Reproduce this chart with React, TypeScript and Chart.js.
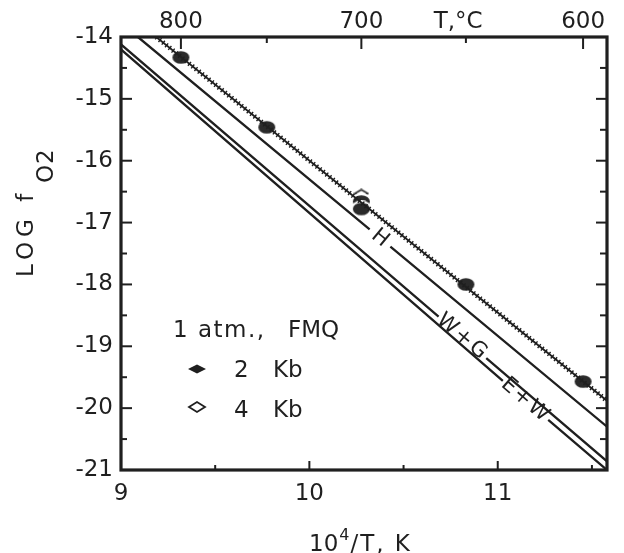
import React, { useEffect, useRef } from 'react';
import { Chart, registerables } from 'chart.js';

Chart.register(...registerables);

const FONT = '"DejaVu Sans", "Liberation Sans", sans-serif';
const INK = '#1f1f1f';

// ---- axes ----
const xMin = 9;
const xMax = 11.58;
const yMin = -21;
const yMax = -14;

const bottomTicks = [9, 10, 11];
const bottomMinorTicks = [9.5, 10.5, 11.5];
const leftTicks = [-14, -15, -16, -17, -18, -19, -20, -21];
const leftMinorTicks = [-14.5, -15.5, -16.5, -17.5, -18.5, -19.5, -20.5];

// top axis: temperature in deg C placed at 10^4/T(K)
const topTempLabels = ['800', '750', '700', '650', '600'];
const topTickX = [9.318, 9.774, 10.276, 10.831, 11.453];
const topMajor = [true, false, true, false, true];
const topUnitText = 'T,°C';
const topUnitX = 10.79;

// ---- series ----
// 1 atm FMQ buffer (hatched line)
const fmqX = [9.187, 11.58];
const fmqY = [-14.0, -19.88];

// H line (gap for label)
const hX = [9.09, 10.32, 10.375, 10.43, 11.58];
const hY: (number | null)[] = [-14.0, -17.11, null, -17.39, -20.3];

// W+G line
const wgX = [9.0, 10.686, 10.81, 10.939, 11.58];
const wgY: (number | null)[] = [-14.12, -18.52, null, -19.19, -20.86];

// E+W line
const ewX = [9.0, 11.027, 11.15, 11.268, 11.58];
const ewY: (number | null)[] = [-14.2, -19.56, null, -20.19, -21.0];

// line labels
const lineLabelText = ['H', 'W+G', 'E+W'];
const lineLabelX = [10.375, 10.812, 11.148];
const lineLabelY = [-17.25, -18.85, -19.877];

// experimental points
const kb2X = [9.318, 9.774, 10.276, 10.276, 10.831, 11.453];
const kb2Y = [-14.33, -15.46, -16.66, -16.78, -18.0, -19.57];
const kb4X = [10.276];
const kb4Y = [-16.53];

// legend
const legendTitleA = '1 atm.,';
const legendTitleB = 'FMQ';
const legendNums = ['2', '4'];
const legendUnit = 'Kb';

const toPts = (xs: number[], ys: (number | null)[]) => xs.map((x, i) => ({ x, y: ys[i] }));

function makeDot() {
  const c = document.createElement('canvas');
  c.width = 21;
  c.height = 17;
  const g = c.getContext('2d')!;
  g.fillStyle = '#ffffff';
  g.beginPath();
  g.ellipse(10.5, 8.5, 10.5, 8.5, 0, 0, Math.PI * 2);
  g.fill();
  g.fillStyle = '#2a2a2a';
  g.beginPath();
  g.ellipse(10.5, 8.5, 8.5, 6.3, 0, 0, Math.PI * 2);
  g.fill();
  return c;
}

function makeOpenDiamond() {
  const c = document.createElement('canvas');
  c.width = 16;
  c.height = 10;
  const g = c.getContext('2d')!;
  g.fillStyle = '#ffffff';
  g.strokeStyle = '#2a2a2a';
  g.lineWidth = 1.6;
  g.beginPath();
  g.moveTo(1.5, 5);
  g.lineTo(8, 1.2);
  g.lineTo(14.5, 5);
  g.lineTo(8, 8.8);
  g.closePath();
  g.fill();
  g.stroke();
  return c;
}

const decor = {
  id: 'decor',
  afterDraw(chart: any) {
    const { ctx, chartArea: a, scales } = chart;
    const xs = scales.x;
    const xt = scales.xTop;
    const ys = scales.y;
    ctx.save();
    ctx.strokeStyle = INK;
    ctx.fillStyle = INK;
    ctx.lineCap = 'butt';

    const seg = (x1: number, y1: number, x2: number, y2: number) => {
      ctx.beginPath();
      ctx.moveTo(x1, y1);
      ctx.lineTo(x2, y2);
      ctx.stroke();
    };

    // inward ticks
    ctx.lineWidth = 2;
    bottomTicks.forEach((v) => {
      const p = xs.getPixelForValue(v);
      seg(p, a.bottom, p, a.bottom - 9);
    });
    bottomMinorTicks.forEach((v) => {
      const p = xs.getPixelForValue(v);
      seg(p, a.bottom, p, a.bottom - 5);
    });
    topTickX.forEach((v, i) => {
      const p = xt.getPixelForValue(v);
      seg(p, a.top, p, a.top + (topMajor[i] ? 12 : 6));
    });
    leftTicks.forEach((v) => {
      const p = ys.getPixelForValue(v);
      seg(a.left, p, a.left + 11, p);
      seg(a.right, p, a.right - 11, p);
    });
    leftMinorTicks.forEach((v) => {
      const p = ys.getPixelForValue(v);
      seg(a.left, p, a.left + 6, p);
      seg(a.right, p, a.right - 7, p);
    });

    // frame
    ctx.lineWidth = 3.2;
    ctx.strokeRect(a.left, a.top, a.right - a.left, a.bottom - a.top);

    // line labels, rotated along their lines
    const sets = [
      [hX, hY],
      [wgX, wgY],
      [ewX, ewY],
    ] as [number[], (number | null)[]][];
    ctx.font = `21px ${FONT}`;
    ctx.textAlign = 'center';
    ctx.textBaseline = 'middle';
    lineLabelText.forEach((t, i) => {
      const [lx, ly] = sets[i];
      const n = lx.length - 1;
      const dx = xs.getPixelForValue(lx[n]) - xs.getPixelForValue(lx[0]);
      const dy = ys.getPixelForValue(ly[n] as number) - ys.getPixelForValue(ly[0] as number);
      const ang = Math.atan2(dy, dx);
      ctx.save();
      ctx.translate(xs.getPixelForValue(lineLabelX[i]), ys.getPixelForValue(lineLabelY[i]));
      ctx.rotate(ang);
      (ctx as any).letterSpacing = i === 0 ? '0px' : '2px';
      ctx.fillText(t, 0, 0);
      ctx.restore();
    });

    // legend
    ctx.font = `23px ${FONT}`;
    ctx.textAlign = 'left';
    ctx.textBaseline = 'alphabetic';
    (ctx as any).letterSpacing = '1.5px';
    ctx.fillText(legendTitleA, 173, 337);
    (ctx as any).letterSpacing = '0px';
    ctx.fillText(legendTitleB, 288, 337);
    // filled diamond
    ctx.beginPath();
    ctx.moveTo(188, 369);
    ctx.lineTo(197, 364.5);
    ctx.lineTo(206, 369);
    ctx.lineTo(197, 373.5);
    ctx.closePath();
    ctx.fill();
    // open diamond
    ctx.lineWidth = 1.8;
    ctx.beginPath();
    ctx.moveTo(189, 407);
    ctx.lineTo(197, 402);
    ctx.lineTo(205, 407);
    ctx.lineTo(197, 412);
    ctx.closePath();
    ctx.stroke();
    ctx.fillText(legendNums[0], 234, 377);
    ctx.fillText(legendUnit, 273, 377);
    ctx.fillText(legendNums[1], 234, 417);
    ctx.fillText(legendUnit, 273, 417);

    // y title: LOG f O2 (rotated)
    ctx.save();
    ctx.translate(33, 277);
    ctx.rotate(-Math.PI / 2);
    (ctx as any).letterSpacing = '5px';
    ctx.fillText('LOG f', 0, 0);
    (ctx as any).letterSpacing = '1px';
    ctx.fillText('O2', 94, 20);
    ctx.restore();

    // x title: 10^4/T, K
    (ctx as any).letterSpacing = '0px';
    ctx.font = `23px ${FONT}`;
    let x0 = 309;
    ctx.fillText('10', x0, 551);
    x0 += ctx.measureText('10').width + 1;
    ctx.font = `16px ${FONT}`;
    ctx.fillText('4', x0, 540);
    x0 += ctx.measureText('4').width + 1;
    ctx.font = `23px ${FONT}`;
    (ctx as any).letterSpacing = '2px';
    ctx.fillText('/T, K', x0, 551);
    ctx.restore();
  },
};

export default function App() {
  const ref = useRef<HTMLCanvasElement>(null);

  useEffect(() => {
    const canvas = ref.current!;
    const dotImg = makeDot();
    const diaImg = makeOpenDiamond();

    const topLabelVals: number[] = [];
    const topLabelTexts: string[] = [];
    topTickX.forEach((v, i) => {
      if (topMajor[i]) {
        topLabelVals.push(v);
        topLabelTexts.push(topTempLabels[i]);
      }
    });
    topLabelVals.splice(2, 0, topUnitX);
    topLabelTexts.splice(2, 0, topUnitText);

    const tickFont = { family: FONT, size: 23 };
    const common = {
      type: 'linear' as const,
      grid: { display: false, drawTicks: false, tickLength: 0 },
      border: { display: false },
    };

    const chart = new Chart(canvas, {
      type: 'line',
      data: {
        datasets: [
          {
            label: 'FMQ',
            data: toPts(fmqX, fmqY),
            borderColor: INK,
            borderWidth: 1.8,
            pointRadius: 0,
            xAxisID: 'x',
            yAxisID: 'y',
          },
          {
            label: 'FMQ hatch',
            data: toPts(fmqX, fmqY),
            borderColor: INK,
            borderWidth: 5,
            borderDash: [1.4, 2.8],
            pointRadius: 0,
            xAxisID: 'x',
            yAxisID: 'y',
          },
          {
            label: 'H',
            data: toPts(hX, hY),
            borderColor: INK,
            borderWidth: 2.3,
            pointRadius: 0,
            spanGaps: false,
            xAxisID: 'x',
            yAxisID: 'y',
          },
          {
            label: 'W+G',
            data: toPts(wgX, wgY),
            borderColor: INK,
            borderWidth: 2.3,
            pointRadius: 0,
            spanGaps: false,
            xAxisID: 'x',
            yAxisID: 'y',
          },
          {
            label: 'E+W',
            data: toPts(ewX, ewY),
            borderColor: INK,
            borderWidth: 2.3,
            pointRadius: 0,
            spanGaps: false,
            xAxisID: 'x',
            yAxisID: 'y',
          },
          {
            label: '2 Kb',
            data: toPts(kb2X, kb2Y),
            showLine: false,
            pointStyle: dotImg as any,
            pointRadius: 8,
            xAxisID: 'x',
            yAxisID: 'y',
          },
          {
            label: '4 Kb',
            data: toPts(kb4X, kb4Y),
            showLine: false,
            pointStyle: diaImg as any,
            pointRadius: 7,
            xAxisID: 'x',
            yAxisID: 'y',
          },
        ],
      },
      options: {
        animation: false,
        responsive: false,
        events: [],
        layout: { padding: { left: 0, right: 17, top: 0, bottom: 0 } },
        plugins: { legend: { display: false }, tooltip: { enabled: false } },
        scales: {
          x: {
            ...common,
            position: 'bottom',
            min: xMin,
            max: xMax,
            afterBuildTicks: (s: any) => {
              s.ticks = bottomTicks.map((v) => ({ value: v }));
            },
            afterFit: (s: any) => {
              s.height = 83;
            },
            ticks: {
              font: tickFont,
              color: INK,
              padding: 10,
              maxRotation: 0,
              minRotation: 0,
              autoSkip: false,
              callback: (v: any) => String(v),
            },
          },
          xTop: {
            ...common,
            position: 'top',
            min: xMin,
            max: xMax,
            afterBuildTicks: (s: any) => {
              s.ticks = topLabelVals.map((v) => ({ value: v }));
            },
            afterFit: (s: any) => {
              s.height = 37;
            },
            ticks: {
              font: tickFont,
              color: INK,
              padding: 1,
              maxRotation: 0,
              minRotation: 0,
              autoSkip: false,
              callback: (_v: any, i: number) => topLabelTexts[i],
            },
          },
          y: {
            ...common,
            position: 'left',
            min: yMin,
            max: yMax,
            afterBuildTicks: (s: any) => {
              s.ticks = leftTicks.map((v) => ({ value: v }));
            },
            afterFit: (s: any) => {
              s.width = 121;
            },
            ticks: {
              font: tickFont,
              color: INK,
              padding: 8,
              autoSkip: false,
              callback: (v: any) => String(v),
            },
          },
        },
      } as any,
      plugins: [decor],
    });

    return () => chart.destroy();
  }, []);

  return (
    <div style={{ position: 'absolute', left: 0, top: 0, width: 624, height: 553, background: '#ffffff' }}>
      <canvas ref={ref} width={624} height={553} style={{ display: 'block', width: 624, height: 553 }} />
    </div>
  );
}
